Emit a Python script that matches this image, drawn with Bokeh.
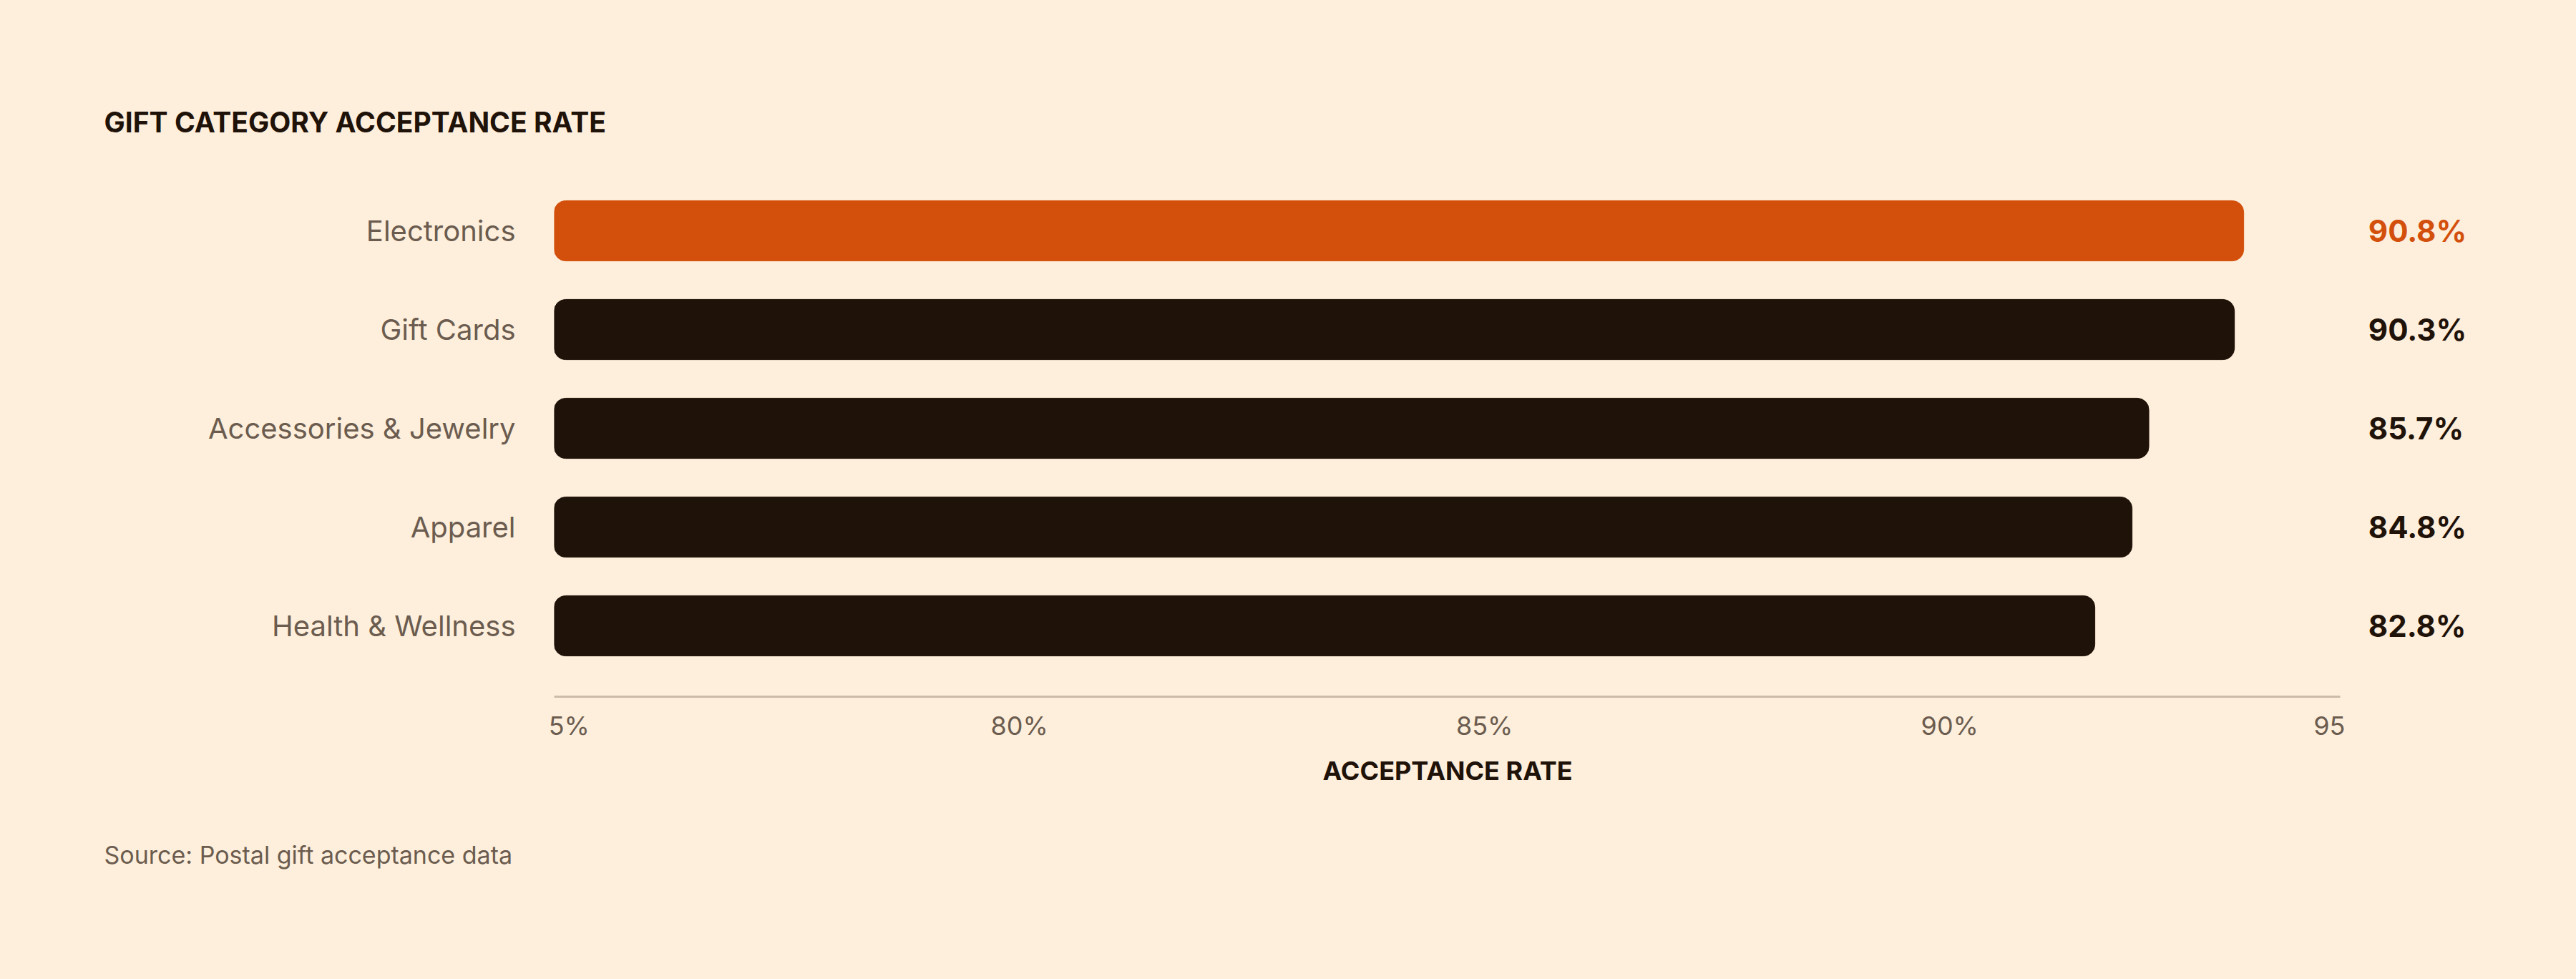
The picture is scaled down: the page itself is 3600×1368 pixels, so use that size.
from bokeh.plotting import figure
from bokeh.models import ColumnDataSource, FactorRange, Range1d, FixedTicker, LabelSet, Title
from bokeh.core.properties import value
from bokeh.embed import file_html
from bokeh.resources import INLINE

# data
categories = ["Electronics", "Gift Cards", "Accessories & Jewelry", "Apparel", "Health & Wellness"]
rates = [90.8, 90.3, 85.7, 84.8, 82.8]
rate_labels = ["90.8%", "90.3%", "85.7%", "84.8%", "82.8%"]
highlight = "Electronics"

# x axis ticks as they appear (edge labels are cut off in the original)
tick_values = [0.8, 25, 50, 75, 95.4]
tick_labels = ["5%", "80%", "85%", "90%", "95"]

BG = "#FEEFDC"
DARK = "#1F1209"
ORANGE = "#D3500C"
MUTED = "#6B5C4F"
FONT = "Inter"

X_MAX = 96      # end of the drawn axis
X_END = 105.6   # extra room on the right for the value labels
colors = [ORANGE if c == highlight else DARK for c in categories]
source = ColumnDataSource(dict(cat=categories, rate=rates, label=rate_labels, color=colors))

p = figure(
    width=3600,
    height=1368,
    y_range=FactorRange(factors=categories[::-1], range_padding=0.087),
    x_range=Range1d(0, X_END),
    output_backend="svg",
    toolbar_location=None,
    min_border_left=774,
    min_border_right=80,
    min_border_top=223,
    min_border_bottom=395,
)
p.background_fill_color = BG
p.border_fill_color = BG
p.outline_line_color = None
p.grid.grid_line_color = None

p.title.text = "GIFT CATEGORY ACCEPTANCE RATE"
p.title.align = "left"
p.title.offset = -629
p.title.standoff = 60
p.title.text_font = FONT
p.title.text_font_size = "39px"
p.title.text_font_style = "bold"
p.title.text_color = DARK

p.hbar(y="cat", left=0, right="rate", height=0.61, color="color",
       border_radius=16, source=source)

# value labels to the right of the bars
p.add_layout(LabelSet(x=97.5, y="cat", text="label", source=source,
                      text_color="color", text_font=value(FONT), text_font_size="42px",
                      text_font_style="bold", text_baseline="middle", text_align="left"))

# x axis
xa = p.xaxis[0]
xa.bounds = (0, X_MAX)
xa.ticker = FixedTicker(ticks=tick_values)
xa.major_label_overrides = dict(zip(tick_values, tick_labels))
xa.axis_line_color = "#CBBBA8"
xa.axis_line_width = 3
xa.major_tick_line_color = None
xa.minor_tick_line_color = None
xa.major_label_text_font = FONT
xa.major_label_text_font_size = "36px"
xa.major_label_text_color = MUTED
xa.major_label_standoff = 12

# y axis with category names
ya = p.yaxis[0]
ya.axis_line_color = None
ya.major_tick_line_color = None
ya.minor_tick_line_color = None
ya.major_tick_out = 0
ya.major_label_standoff = 54
ya.major_label_text_font = FONT
ya.major_label_text_font_size = "40px"
ya.major_label_text_color = MUTED

# axis title, placed under the middle of the drawn part of the axis
p.add_layout(Title(text="ACCEPTANCE RATE", align="left", offset=1074, standoff=28,
                   text_font=FONT, text_font_size="36px", text_font_style="bold",
                   text_color=DARK), "below")

# source note under the axis
p.add_layout(Title(text="Source: Postal gift acceptance data", align="left", offset=-629,
                   standoff=118, text_font=FONT, text_font_size="34px",
                   text_font_style="normal", text_color=MUTED), "below")

html = file_html(p, INLINE)
html = html.replace("<head>", "<head><style>html, body {background: %s;}</style>" % BG, 1)
open("out.html", "w").write(html)
